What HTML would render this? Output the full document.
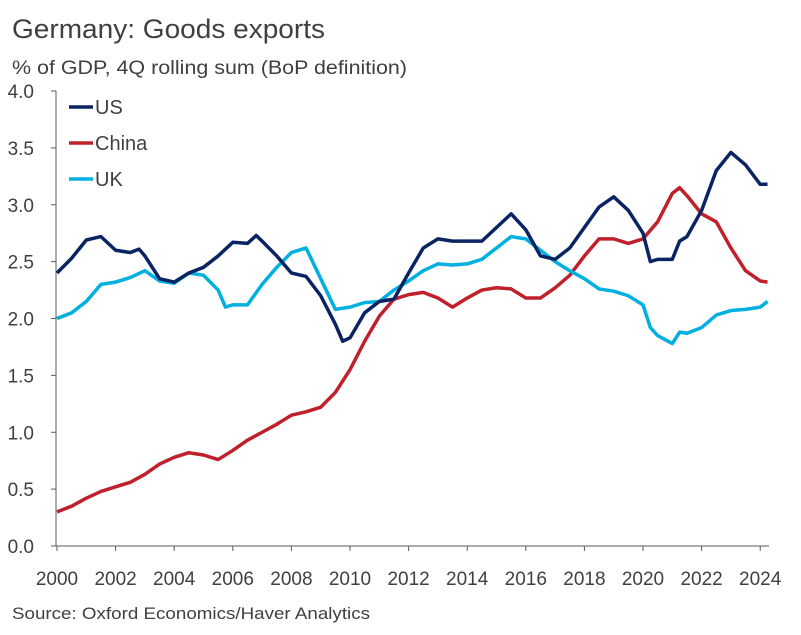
<!DOCTYPE html>
<html><head><meta charset="utf-8"><style>
body{margin:0;background:#fff;font-family:"Liberation Sans",sans-serif;}
</style></head><body>
<svg width="801" height="630" viewBox="0 0 801 630" xmlns="http://www.w3.org/2000/svg">
<text x="12" y="38" font-size="27" fill="#404040" textLength="313" lengthAdjust="spacingAndGlyphs">Germany: Goods exports</text>
<text x="12" y="74" font-size="19.5" fill="#404040" textLength="395" lengthAdjust="spacingAndGlyphs">% of GDP, 4Q rolling sum (BoP definition)</text>
<g id="axes"></g>
<g id="series"></g>
<g id="legend"></g>
<text x="12" y="619" font-size="17" fill="#404040" textLength="358" lengthAdjust="spacingAndGlyphs">Source: Oxford Economics/Haver Analytics</text>
</svg>
<script>
const yTicks=["0.0","0.5","1.0","1.5","2.0","2.5","3.0","3.5","4.0"];
const xTicks=[2000,2002,2004,2006,2008,2010,2012,2014,2016,2018,2020,2022,2024];
const usYears=[2000,2000.5,2001,2001.5,2002,2002.5,2002.8,2003,2003.5,2004,2004.5,2005,2005.5,2006,2006.5,2006.8,2007,2007.5,2008,2008.5,2009,2009.5,2009.75,2010,2010.5,2011,2011.5,2012,2012.5,2013,2013.5,2014,2014.5,2015,2015.5,2016,2016.5,2017,2017.5,2018,2018.5,2019,2019.5,2020,2020.25,2020.5,2021,2021.25,2021.5,2022,2022.5,2023,2023.5,2024,2024.25];
const usValues=[2.40,2.53,2.69,2.72,2.60,2.58,2.61,2.55,2.35,2.32,2.40,2.45,2.55,2.67,2.66,2.73,2.68,2.55,2.40,2.37,2.20,1.95,1.80,1.83,2.05,2.15,2.17,2.40,2.62,2.70,2.68,2.68,2.68,2.80,2.92,2.78,2.55,2.52,2.62,2.80,2.98,3.07,2.95,2.75,2.50,2.52,2.52,2.68,2.72,2.95,3.30,3.46,3.35,3.18,3.18];
const chinaYears=[2000,2000.5,2001,2001.5,2002,2002.5,2003,2003.5,2004,2004.5,2005,2005.5,2006,2006.5,2007,2007.5,2008,2008.5,2009,2009.5,2010,2010.5,2011,2011.5,2012,2012.5,2013,2013.5,2014,2014.5,2015,2015.5,2016,2016.5,2017,2017.5,2018,2018.5,2019,2019.5,2020,2020.5,2021,2021.25,2021.5,2022,2022.5,2023,2023.5,2024,2024.25];
const chinaValues=[0.30,0.35,0.42,0.48,0.52,0.56,0.63,0.72,0.78,0.82,0.80,0.76,0.84,0.93,1.00,1.07,1.15,1.18,1.22,1.35,1.55,1.80,2.02,2.17,2.21,2.23,2.18,2.10,2.18,2.25,2.27,2.26,2.18,2.18,2.27,2.38,2.55,2.70,2.70,2.66,2.70,2.85,3.10,3.15,3.08,2.92,2.85,2.62,2.42,2.33,2.32];
const ukYears=[2000,2000.5,2001,2001.5,2002,2002.5,2003,2003.5,2004,2004.5,2005,2005.5,2005.75,2006,2006.5,2007,2007.5,2008,2008.5,2009,2009.5,2010,2010.5,2011,2011.5,2012,2012.5,2013,2013.5,2014,2014.5,2015,2015.5,2016,2016.5,2017,2017.5,2018,2018.5,2019,2019.5,2020,2020.25,2020.5,2021,2021.25,2021.5,2022,2022.5,2023,2023.5,2024,2024.25];
const ukValues=[2.00,2.05,2.15,2.30,2.32,2.36,2.42,2.33,2.31,2.40,2.38,2.25,2.10,2.12,2.12,2.30,2.45,2.58,2.62,2.35,2.08,2.10,2.14,2.15,2.25,2.33,2.42,2.48,2.47,2.48,2.52,2.62,2.72,2.70,2.60,2.50,2.42,2.35,2.26,2.24,2.20,2.12,1.92,1.85,1.78,1.88,1.87,1.92,2.03,2.07,2.08,2.10,2.15];
const NS="http://www.w3.org/2000/svg";
const X=y=>57+(y-2000)*29.3;
const Y=v=>546-v*113.75;
function mk(t,a,p){const e=document.createElementNS(NS,t);for(const k in a)e.setAttribute(k,a[k]);p.appendChild(e);return e;}
const ax=document.getElementById('axes');
const yl=mk('line',{x1:56,y1:Y(0),x2:56,y2:Y(4),stroke:'#595959','stroke-width':1},ax);


const xl=mk('line',{x1:56,y1:Y(0),x2:769,y2:Y(0),stroke:'#595959','stroke-width':1},ax);


yTicks.forEach(t=>{const v=parseFloat(t);
mk('line',{x1:51,y1:Y(v),x2:56,y2:Y(v),stroke:'#595959'},ax);
const tx=mk('text',{x:34,y:Y(v)+7,'font-size':19,fill:'#404040','text-anchor':'end'},ax);tx.textContent=t;

});
xTicks.forEach(t=>{
mk('line',{x1:X(t),y1:Y(0),x2:X(t),y2:Y(0)+5,stroke:'#595959'},ax);
const tx=mk('text',{x:X(t),y:585,'font-size':19,fill:'#404040','text-anchor':'middle'},ax);tx.textContent=t;

});
const sg=document.getElementById('series');
function line(ys,vs,c,n){const p=mk('polyline',{points:ys.map((y,i)=>X(y)+','+Y(vs[i])).join(' '),fill:'none',stroke:c,'stroke-width':3.5,'stroke-linejoin':'round'},sg);

}
line(chinaYears,chinaValues,'#c0202a','china-line');
line(ukYears,ukValues,'#00b0e0','uk-line');
line(usYears,usValues,'#0a2463','us-line');
const lg=document.getElementById('legend');
[['US','#0a2463',107],['China','#c0202a',143],['UK','#00b0e0',179]].forEach(([n,c,y])=>{
mk('line',{x1:69,y1:y,x2:93,y2:y,stroke:c,'stroke-width':3.5},lg);
const t=mk('text',{x:95,y:y+7,'font-size':20,fill:'#404040'},lg);t.textContent=n;

});
</script>
</body></html>
